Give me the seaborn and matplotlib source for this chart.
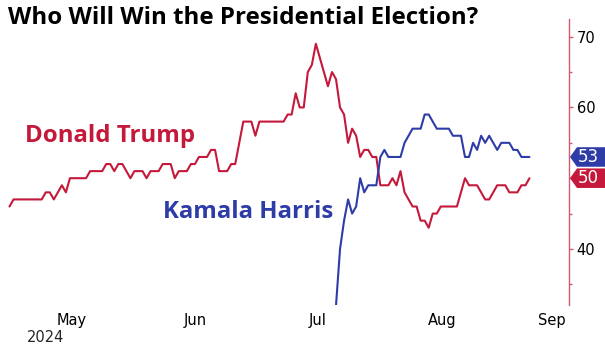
import matplotlib
matplotlib.use("Agg")
import matplotlib.pyplot as plt
import matplotlib.transforms as mtransforms
from matplotlib.patches import Polygon
from matplotlib.ticker import MultipleLocator
import pandas as pd
import seaborn as sns

# ======================
# data (daily odds, %)
# ======================
title = "Who Will Win the Presidential Election?"
trump_name = "Donald Trump"
harris_name = "Kamala Harris"

trump_start = "2024-05-01"
trump = [
    46, 47, 47, 47, 47, 47, 47, 47, 47, 48,
    48, 47, 48, 49, 48, 50, 50, 50, 50, 50,
    51, 51, 51, 51, 52, 52, 51, 52, 52, 51,
    50, 51, 51, 51, 50, 51, 51, 51, 52, 52,
    52, 50, 51, 51, 51, 52, 52, 53, 53, 53,
    54, 54, 51, 51, 51, 52, 52, 55, 58, 58,
    58, 56, 58, 58, 58, 58, 58, 58, 58, 59,
    59, 62, 60, 60, 65, 66, 69, 67, 65, 63,
    65, 64, 60, 59, 55, 57, 56, 53, 54, 54,
    53, 53, 49, 49, 49, 50, 49, 51, 48, 47,
    46, 46, 44, 44, 43, 45, 45, 46, 46, 46,
    46, 46, 48, 50, 49, 49, 49, 48, 47, 47,
    48, 49, 49, 49, 48, 48, 48, 49, 49, 50,
]

harris_start = "2024-07-21"
harris = [
    32, 40, 44, 47, 45, 46, 50, 48, 49,
    49, 49, 53, 54, 53, 53, 53, 53, 55, 56,
    57, 57, 57, 59, 59, 58, 57, 57, 57, 57,
    56, 56, 56, 53, 53, 55, 54, 56, 55, 56,
    55, 54, 55, 55, 55, 54, 54, 53, 53, 53,
]

y_ticks = [40, 50, 60, 70]
y_tick_labels = ["40", "", "60", "70"]   # 50 sits under the end tag
month_labels = ["May", "Jun", "Jul", "Aug", "Sep"]
month_label_dates = ["2024-05-16 12:00", "2024-06-16 00:00", "2024-07-16 12:00",
                     "2024-08-16 06:00", "2024-09-12 12:00"]
year_label = "2024"

# ======================
# style
# ======================
RED = "#c4193b"
BLUE = "#2e3ca8"
AXIS_RED = "#d45a72"

sns.set_style("white")
plt.rcParams["font.family"] = ["DejaVu Sans"]

df_t = pd.DataFrame({"date": pd.date_range(trump_start, periods=len(trump)), "value": trump})
df_h = pd.DataFrame({"date": pd.date_range(harris_start, periods=len(harris)), "value": harris})

fig = plt.figure(figsize=(6.05, 3.46), dpi=100)
ax = fig.add_axes([4 / 605, 41 / 346, 565 / 605, 286 / 346])

sns.lineplot(data=df_t, x="date", y="value", color=RED, lw=1.5, ax=ax)
sns.lineplot(data=df_h, x="date", y="value", color=BLUE, lw=1.5, ax=ax)

t0 = pd.Timestamp(trump_start)
ax.set_xlim(t0 - pd.Timedelta(days=1.36), t0 + pd.Timedelta(days=138.8))
ax.set_ylim(32.08, 72.5)

for s in ["top", "left", "bottom"]:
    ax.spines[s].set_visible(False)
ax.spines["right"].set_color(AXIS_RED)
ax.spines["right"].set_linewidth(1.0)

ax.yaxis.tick_right()
ax.set_yticks(y_ticks)
ax.set_yticklabels(y_tick_labels)
ax.yaxis.set_minor_locator(MultipleLocator(5))
ax.tick_params(axis="y", which="major", direction="out", length=3, width=1,
               color=AXIS_RED, labelsize=10.5, pad=2.5, labelcolor="black")
ax.tick_params(axis="y", which="minor", direction="out", length=2, width=1, color=AXIS_RED)

ax.set_xticks(pd.to_datetime(month_label_dates, format="%Y-%m-%d %H:%M"))
ax.set_xticklabels(month_labels)
ax.tick_params(axis="x", length=0, labelsize=10.5, pad=6, labelcolor="black")
ax.set_xlabel("")
ax.set_ylabel("")

# series names
ax.text(0.037, 0.591, trump_name, transform=ax.transAxes, color=RED,
        fontsize=17.3, fontweight="bold", family="Open Sans", va="center", ha="left")
ax.text(0.281, 0.325, harris_name, transform=ax.transAxes, color=BLUE,
        fontsize=17.3, fontweight="bold", family="Open Sans", va="center", ha="left")

# last value tags on the right axis
trans = mtransforms.blended_transform_factory(ax.transAxes, ax.transData)
tip = 1.0 + 1 / 565
body = 1.0 + 8 / 565
end = 1.0 + 40 / 565
half = 1.38
for val, col in [(harris[-1], BLUE), (trump[-1], RED)]:
    poly = Polygon([(tip, val), (body, val + half), (end, val + half),
                    (end, val - half), (body, val - half)],
                   closed=True, transform=trans, facecolor=col, edgecolor="none",
                   clip_on=False, zorder=5)
    ax.add_patch(poly)
    ax.text(1.0 + 19 / 565, val, f"{val}", transform=trans, color="white",
            fontsize=12, ha="center", va="center", zorder=6, clip_on=False)

fig.text(8 / 605, 1 - 18 / 346, title, fontsize=17.4, fontweight="bold",
         family="Open Sans", va="center", ha="left", color="black")
fig.text(27 / 605, 1 - 338 / 346, year_label, fontsize=10.5, va="center", ha="left")

fig.savefig("out.png", dpi=100)
